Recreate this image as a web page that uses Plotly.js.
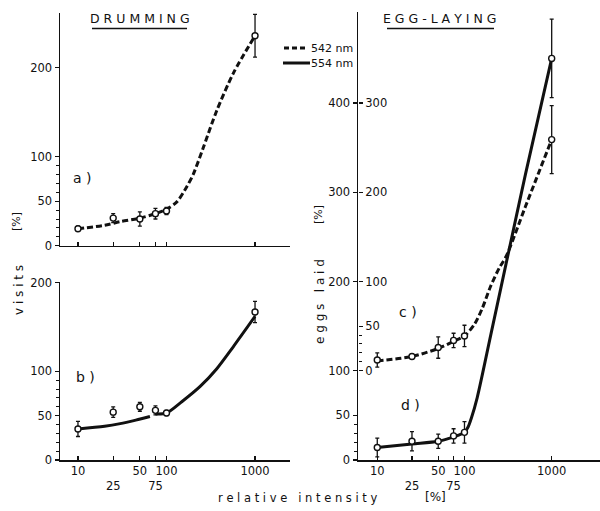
<!DOCTYPE html>
<html>
<head>
<meta charset="utf-8">
<script src="https://cdn.plot.ly/plotly-3.0.1.min.js"></script>
<style>html,body{margin:0;padding:0;background:#fff}#chart{width:600px;height:511px}</style>
</head>
<body>
<div id="chart"></div>
<script>
// ---- data ----
var intensity = [10, 25, 50, 75, 100, 1000];
var xTickText = ["10", "<br>25", "50", "<br>75", "100", "1000"];

// a) drumming, 542 nm
var drumA = [19, 31, 30, 36, 39, 236];
var drumAErr = [3, 5, 8, 6, 4, 24];
var fitAX = [10, 20, 30, 50, 75, 100, 130, 160, 200, 260, 370, 570, 1000];
var fitAY = [19, 23, 27, 31, 36, 41, 49, 62, 80, 110, 152, 194, 236];

// b) drumming, 554 nm
var drumB = [35, 54, 60, 56, 53, 167];
var drumBErr = [8.5, 6, 5, 5, 3, 12];
var fitBX = [10, 20, 30, 45, 65, null, 75, 100, 150, 240, 370, 570, 1000];
var fitBY = [35, 38, 41, 45, 49, null, 52, 53, 66, 83, 103, 128, 162];

// c) egg-laying, 542 nm
var eggC = [12, 16, 26, 34, 39, 259];
var eggCErr = [8, 3, 12, 8, 12, 38];
var fitCX = [10, 25, 50, 75, 100, 130, 160, 200, 250, 300, 500, 1000];
var fitCY = [11, 16, 25, 33, 39, 52, 70, 95, 115, 128, 184, 259];

// d) egg-laying, 554 nm
var eggD = [14, 21, 21, 27, 31, 450];
var eggDErr = [10.5, 10.7, 8, 8, 12, 44];
var fitDX = [10, 25, 50, 75, 100, 110, 120, 140, 200, 300, 500, 1000];
var fitDY = [14, 18, 21, 26, 31, 37, 47, 70, 140, 220, 320, 450];

var yTicksLeft = [0, 50, 100, 200];
var yTicksD = [0, 50, 100, 200, 300, 400];
var yTicksC = [0, 50, 100, 200, 300];

// ---- helpers ----
function px(x) { return x / 600; }
function py(y) { return 1 - y / 511; }
var FONT = "DejaVu Sans, Liberation Sans, sans-serif";

function fitTrace(x, y, xa, ya, dash) {
  return {x: x, y: y, xaxis: xa, yaxis: ya, type: 'scatter', mode: 'lines',
    connectgaps: false, hoverinfo: 'skip',
    line: {color: '#111', width: 3, dash: dash, shape: 'spline', smoothing: 0.8}};
}
function ptsTrace(y, err, xa, ya) {
  return {x: intensity, y: y, xaxis: xa, yaxis: ya, type: 'scatter', mode: 'markers',
    marker: {symbol: 'circle', size: 6, color: '#fff', line: {color: '#111', width: 1.4}},
    error_y: {type: 'data', array: err, visible: true, color: '#111', thickness: 1.3, width: 2}};
}

var dashPat = '6px,3px';
var data = [
  fitTrace(fitAX, fitAY, 'x', 'y', dashPat),
  ptsTrace(drumA, drumAErr, 'x', 'y'),
  fitTrace(fitBX, fitBY, 'x2', 'y2', 'solid'),
  ptsTrace(drumB, drumBErr, 'x2', 'y2'),
  fitTrace(fitCX, fitCY, 'x3', 'y4', dashPat),
  ptsTrace(eggC, eggCErr, 'x3', 'y4'),
  fitTrace(fitDX, fitDY, 'x3', 'y3', 'solid'),
  ptsTrace(eggD, eggDErr, 'x3', 'y3')
];

var tickFont = {family: FONT, size: 11.5, color: '#111'};
function xAxis(domain, range, anchor, labels) {
  return {type: 'log', domain: domain, range: range, anchor: anchor,
    tickmode: 'array', tickvals: intensity, ticktext: xTickText,
    showticklabels: labels, ticks: 'inside', ticklen: 4, tickwidth: 1.2, tickcolor: '#111',
    showline: true, linecolor: '#111', linewidth: 1.5, showgrid: false, zeroline: false,
    tickfont: tickFont, tickangle: 0, fixedrange: true};
}
function yAxis(domain, range, anchor, vals, minorVals) {
  return {domain: domain, range: range, anchor: anchor,
    tickmode: 'array', tickvals: vals, ticktext: vals.map(String),
    ticks: 'outside', ticklen: 4, tickwidth: 1.2, tickcolor: '#111',
    minor: {tickmode: 'array', tickvals: minorVals, ticks: 'outside', ticklen: 3, tickwidth: 1, tickcolor: '#111'},
    showline: true, linecolor: '#111', linewidth: 1.5, showgrid: false, zeroline: false,
    tickfont: tickFont, fixedrange: true};
}

function ann(text, x, y, size, extra) {
  var a = {text: text, x: px(x), y: py(y), xref: 'paper', yref: 'paper',
    xanchor: 'center', yanchor: 'middle', showarrow: false,
    font: {family: FONT, size: size, color: '#111'}};
  if (extra) { for (var k in extra) a[k] = extra[k]; }
  return a;
}

var minorLeft = [10, 20, 30, 40, 60, 70, 80, 90];
var layout = {
  width: 600, height: 511,
  margin: {l: 0, r: 0, t: 0, b: 0},
  paper_bgcolor: '#fff', plot_bgcolor: 'rgba(0,0,0,0)',
  showlegend: false,
  font: {family: FONT, color: '#111'},
  xaxis: xAxis([px(60), px(290)], [0.797, 3.395], 'y', false),
  xaxis2: xAxis([px(60), px(290)], [0.797, 3.395], 'y2', true),
  xaxis3: xAxis([px(358), 1.0], [0.779, 3.554], 'y3', true),
  yaxis: yAxis([py(245.7), py(13)], [0, 261.5], 'x', yTicksLeft, minorLeft),
  yaxis2: yAxis([py(460), py(281.8)], [0, 201], 'x2', yTicksLeft, minorLeft),
  yaxis3: yAxis([py(460), py(12)], [0, 502], 'x3', yTicksD, [10, 20, 30, 40]),
  yaxis4: {domain: [py(460), py(12)], range: [-100, 402], anchor: 'free', position: px(358),
    overlaying: 'y3', side: 'right',
    tickmode: 'array', tickvals: yTicksC, ticktext: yTicksC.map(String),
    ticks: 'outside', ticklen: 4, tickwidth: 1.2, tickcolor: '#111',
    minor: {tickmode: 'array', tickvals: [10, 20, 30, 40], ticks: 'outside', ticklen: 3, tickwidth: 1, tickcolor: '#111'},
    showline: false, showgrid: false, zeroline: false, tickfont: tickFont, fixedrange: true},
  shapes: [
    {type: 'line', xref: 'paper', yref: 'paper', x0: px(92), x1: px(187), y0: py(28.5), y1: py(28.5), line: {color: '#111', width: 1.3}},
    {type: 'line', xref: 'paper', yref: 'paper', x0: px(387), x1: px(494), y0: py(28.5), y1: py(28.5), line: {color: '#111', width: 1.3}},
    {type: 'line', xref: 'paper', yref: 'paper', x0: px(284), x1: px(306), y0: py(48), y1: py(48), line: {color: '#111', width: 3, dash: '5px,3px'}},
    {type: 'line', xref: 'paper', yref: 'paper', x0: px(283), x1: px(310), y0: py(63), y1: py(63), line: {color: '#111', width: 3}}
  ],
  annotations: [
    ann('D R U M M I N G', 140, 18, 12.5),
    ann('E G G - L A Y I N G', 440, 18, 12.5),
    ann('542 nm', 309, 48, 11, {xanchor: 'left'}),
    ann('554 nm', 309, 63, 11, {xanchor: 'left'}),
    ann('a )', 82, 178, 14),
    ann('b )', 85, 377, 14),
    ann('c )', 408, 312, 14),
    ann('d )', 410, 405, 14),
    ann('v i s i t s', 19, 290, 12, {textangle: -90}),
    ann('[%]', 16, 222, 11, {textangle: -90}),
    ann('e g g s   l a i d', 320, 302, 12, {textangle: -90}),
    ann('[%]', 318, 215, 11, {textangle: -90}),
    ann('r e l a t i v e   i n t e n s i t y', 297, 498, 11.5),
    ann('[%]', 435, 497, 12)
  ]
};

Plotly.newPlot('chart', data, layout, {staticPlot: true, displayModeBar: false});
</script>
</body>
</html>
